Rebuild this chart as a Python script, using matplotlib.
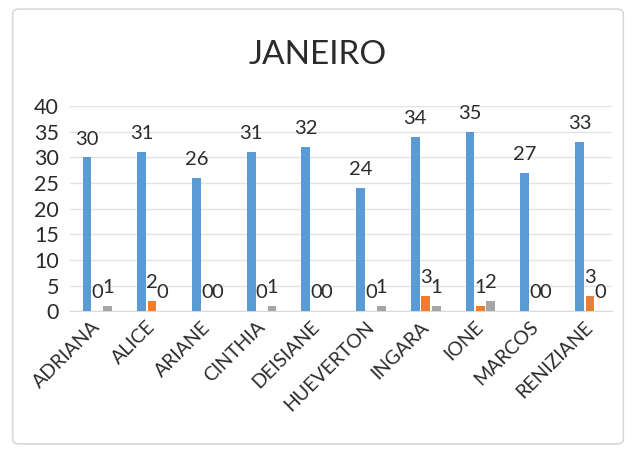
import matplotlib
matplotlib.use("Agg")
import matplotlib.pyplot as plt
from matplotlib.patches import FancyBboxPatch
import numpy as np

nomes = ["ADRIANA", "ALICE", "ARIANE", "CINTHIA", "DEISIANE",
         "HUEVERTON", "INGARA", "IONE", "MARCOS", "RENIZIANE"]
serie_azul = [30, 31, 26, 31, 32, 24, 34, 35, 27, 33]
serie_laranja = [0, 2, 0, 0, 0, 0, 3, 1, 0, 3]
serie_cinza = [1, 0, 0, 1, 0, 1, 1, 2, 0, 0]

cores = ["#5B9BD5", "#ED7D31", "#A5A5A5"]
cor_texto = "#2B2B2B"

plt.rcParams["font.family"] = ["Lato", "DejaVu Sans"]

fig = plt.figure(figsize=(6.36, 4.53), dpi=100)
fig.patch.set_facecolor("white")

# moldura clara em volta do grafico
moldura = FancyBboxPatch((0.02, 0.02), 0.96, 0.96,
                         boxstyle="round,pad=0,rounding_size=0.01",
                         transform=fig.transFigure, facecolor="none",
                         edgecolor="#D9D9D9", linewidth=1.2, zorder=0)
fig.patches.append(moldura)

ax = fig.add_axes([0.11, 0.313, 0.852, 0.453])
ax.set_facecolor("none")

x = np.arange(len(nomes))
largura = 0.19

barras = []
for desloc, valores, cor in zip([-largura, 0, largura],
                                [serie_azul, serie_laranja, serie_cinza], cores):
    b = ax.bar(x + desloc, valores, largura * 0.85, color=cor, zorder=3)
    barras.append(b)

for b in barras:
    ax.bar_label(b, padding=7, fontsize=14.5, color=cor_texto)

ax.set_ylim(0, 40)
ax.set_yticks(range(0, 41, 5))
ax.set_xlim(-0.5, 9.4)
ax.set_xticks(x - 0.1)
ax.set_xticklabels(nomes, rotation=45, ha="right", rotation_mode="anchor",
                   fontsize=14, color=cor_texto)
ax.tick_params(axis="y", labelsize=15.5, colors=cor_texto, length=0, pad=8)
ax.tick_params(axis="x", length=0, pad=5)

ax.grid(axis="y", color="#E3E3E3", linewidth=1, zorder=0)
for lado in ["top", "right", "left"]:
    ax.spines[lado].set_visible(False)
ax.spines["bottom"].set_color("#D9D9D9")

fig.text(0.5, 0.878, "JANEIRO", ha="center", va="center",
         fontsize=24, color=cor_texto)

fig.savefig("out.png", dpi=100)
